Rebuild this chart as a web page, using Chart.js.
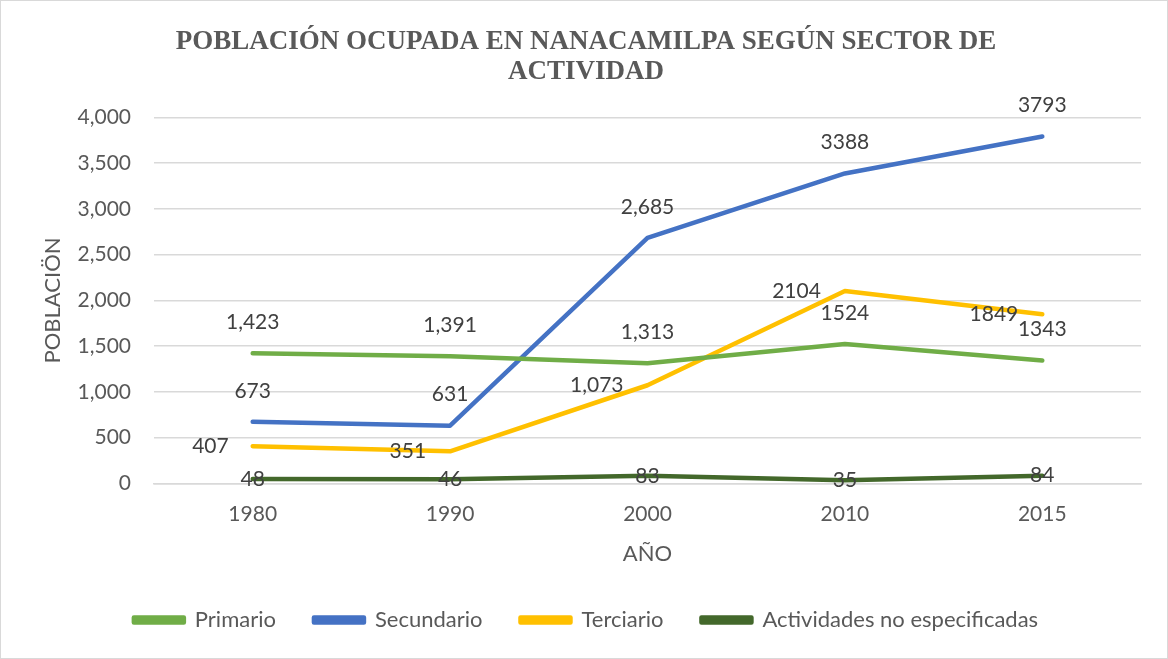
<!DOCTYPE html>
<html>
<head>
<meta charset="utf-8">
<script src="https://cdn.jsdelivr.net/npm/chart.js@4.4.1/dist/chart.umd.min.js"></script>
<style>
  html, body { margin: 0; padding: 0; background: #ffffff; }
  #contenedor { position: relative; width: 1166px; height: 657px; border: 1px solid #d9d9d9; }
</style>
</head>
<body>
<div id="contenedor"><canvas id="grafico"></canvas></div>
<script>
// Datos
const anios = ['1980', '1990', '2000', '2010', '2015'];
const primario = [1423, 1391, 1313, 1524, 1343];
const secundario = [673, 631, 2685, 3388, 3793];
const terciario = [407, 351, 1073, 2104, 1849];
const noEspecificadas = [48, 46, 83, 35, 84];
const ticksY = [0, 500, 1000, 1500, 2000, 2500, 3000, 3500, 4000];

// Posición de la etiqueta de cada serie: arriba, izquierda o centro
const posicionEtiquetas = ['arriba', 'arriba', 'izquierda', 'centro'];

const fuente = "Lato, 'Open Sans', sans-serif";
const gris = '#595959';

// En 2010 y 2015 las etiquetas no llevan separador de miles
function formatear(valor, indice) {
    if (indice >= 3) return String(valor);
    return valor.toLocaleString('en-US');
}

// Plugin propio para dibujar las etiquetas de datos
const etiquetasDatos = {
    id: 'etiquetasDatos',
    afterDatasetsDraw(chart) {
        const ctx = chart.ctx;
        ctx.save();
        ctx.font = '21px ' + fuente;
        ctx.fillStyle = '#404040';
        ctx.textBaseline = 'middle';
        chart.data.datasets.forEach((ds, i) => {
            const meta = chart.getDatasetMeta(i);
            meta.data.forEach((pt, j) => {
                const texto = formatear(ds.data[j], j);
                let x = pt.x, y = pt.y;
                if (posicionEtiquetas[i] === 'arriba') {
                    ctx.textAlign = 'center';
                    y -= 31;
                } else if (posicionEtiquetas[i] === 'izquierda') {
                    ctx.textAlign = 'right';
                    x -= 24;
                } else {
                    ctx.textAlign = 'center';
                }
                ctx.fillText(texto, x, y);
            });
        });
        ctx.restore();
    }
};

function serie(nombre, datos, color) {
    return {
        label: nombre,
        data: datos,
        borderColor: color,
        backgroundColor: color,
        borderWidth: 4.5,
        pointRadius: 0,
        tension: 0,
        borderCapStyle: 'round',
        borderJoinStyle: 'round'
    };
}

new Chart(document.getElementById('grafico'), {
    type: 'line',
    data: {
        labels: anios,
        datasets: [
            serie('Primario', primario, '#70ad47'),
            serie('Secundario', secundario, '#4472c4'),
            serie('Terciario', terciario, '#ffc000'),
            serie('Actividades no especificadas', noEspecificadas, '#43682b')
        ]
    },
    plugins: [etiquetasDatos],
    options: {
        responsive: true,
        maintainAspectRatio: false,
        animation: false,
        layout: { padding: { left: 4, right: 0, top: 10, bottom: 17 } },
        plugins: {
            title: {
                display: true,
                text: ['POBLACIÓN OCUPADA EN NANACAMILPA SEGÚN SECTOR DE', 'ACTIVIDAD'],
                color: gris,
                font: { family: "'Liberation Serif', 'Times New Roman', serif", size: 27, weight: 'bold', lineHeight: 1.12 },
                padding: { top: 16, bottom: 30 }
            },
            legend: {
                position: 'bottom',
                labels: {
                    color: gris,
                    font: { family: fuente, size: 22 },
                    boxWidth: 50,
                    boxHeight: 5,
                    padding: 38
                }
            },
            tooltip: { enabled: false }
        },
        scales: {
            x: {
                offset: true,
                grid: { display: false },
                border: { color: '#d9d9d9', width: 1.5 },
                ticks: { color: gris, font: { family: fuente, size: 21 }, padding: 10 },
                title: { display: true, text: 'AÑO', color: gris, font: { family: fuente, size: 22 }, padding: { top: 4, bottom: 4 } }
            },
            y: {
                min: 0,
                max: 4000,
                afterBuildTicks(eje) { eje.ticks = ticksY.map(v => ({ value: v })); },
                afterFit(eje) { eje.width = 149; },
                grid: { color: '#d9d9d9', lineWidth: 1.5, drawTicks: false },
                border: { display: false },
                ticks: {
                    color: gris,
                    font: { family: fuente, size: 21 },
                    padding: 23,
                    callback: v => v.toLocaleString('en-US')
                },
                title: { display: true, text: 'POBLACIÖN', color: gris, font: { family: fuente, size: 22 }, padding: { top: 35, bottom: 0 } }
            },
            // eje vacío a la derecha solo para dejar el margen del área de trazado
            margen: {
                position: 'right',
                afterFit(eje) { eje.width = 26; },
                grid: { display: false },
                border: { display: false },
                ticks: { display: false }
            }
        }
    }
});
</script>
</body>
</html>
